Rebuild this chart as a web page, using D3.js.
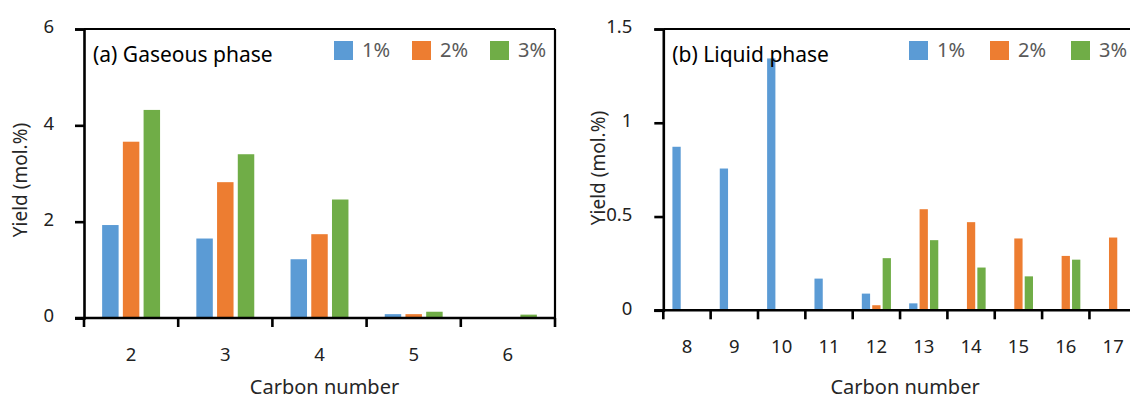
<!DOCTYPE html>
<html>
<head>
<meta charset="utf-8">
<script src="https://cdn.jsdelivr.net/npm/d3@7/dist/d3.min.js"></script>
<style>
  html, body { margin: 0; padding: 0; background: #fff; }
  svg { display: block; }
  text { font-family: "Noto Sans", "Open Sans", sans-serif; }
</style>
</head>
<body>
<svg id="chart" width="1130" height="400"></svg>
<script>
// ---------- DATA ----------
const seriesNames = ["1%", "2%", "3%"];
const seriesColors = ["#5B9BD5", "#ED7D31", "#70AD47"];

// (a) Gaseous phase
const gasCategories = ["2", "3", "4", "5", "6"];
const gas1 = [1.93, 1.65, 1.22, 0.08, 0.00];
const gas2 = [3.66, 2.82, 1.74, 0.08, 0.01];
const gas3 = [4.32, 3.40, 2.46, 0.13, 0.07];
const gasTicks = [0, 2, 4, 6];

// (b) Liquid phase
const liqCategories = ["8", "9", "10", "11", "12", "13", "14", "15", "16", "17"];
const liq1 = [0.872, 0.756, 1.343, 0.169, 0.089, 0.037, 0, 0, 0, 0];
const liq2 = [0, 0, 0, 0, 0.027, 0.539, 0.470, 0.383, 0.290, 0.388];
const liq3 = [0, 0, 0, 0, 0.278, 0.374, 0.228, 0.181, 0.270, 0];
const liqTicks = [0, 0.5, 1, 1.5];
const liqTickLabels = ["0", "0.5", "1", "1.5"];

// ---------- DRAW ----------
const svg = d3.select("#chart");
svg.append("rect").attr("width", 1130).attr("height", 400).attr("fill", "#fff");

function panel(opt) {
  const g = svg.append("g");
  const x = d3.scaleBand().domain(opt.categories).range([opt.x0, opt.x1]).paddingInner(0).paddingOuter(0);
  const y = d3.scaleLinear().domain([0, opt.ymax]).range([opt.yZero, opt.yTop]);
  const bw = x.bandwidth();
  const stepFrac = 0.22;
  const inner = d3.scaleBand().domain(d3.range(3))
    .range([-1.5 * bw * stepFrac, 1.5 * bw * stepFrac])
    .paddingInner(0.205).paddingOuter(0.1025);

  const series = [opt.s1, opt.s2, opt.s3];
  const rows = [];
  opt.categories.forEach((c, ci) => {
    series.forEach((s, si) => rows.push({c, si, v: s[ci]}));
  });

  g.selectAll("rect.bar").data(rows.filter(d => d.v > 0)).join("rect")
    .attr("class", "bar")
    .attr("x", d => x(d.c) + bw / 2 + inner(d.si))
    .attr("width", inner.bandwidth())
    .attr("y", d => y(d.v))
    .attr("height", d => opt.yZero - y(d.v))
    .attr("fill", d => seriesColors[d.si]);

  // top border
  g.append("line")
    .attr("x1", opt.x0).attr("x2", Math.min(opt.x1, 1130))
    .attr("y1", opt.yTop).attr("y2", opt.yTop)
    .attr("stroke", "#000").attr("stroke-width", 2.2);
  if (opt.rightBorder) {
    g.append("line")
      .attr("x1", opt.x1).attr("x2", opt.x1)
      .attr("y1", opt.yTop).attr("y2", opt.yZero)
      .attr("stroke", "#000").attr("stroke-width", 2.2);
  }

  // y axis
  const yAxis = d3.axisLeft(y).tickValues(opt.ticks).tickSize(9).tickPadding(opt.tickPad)
    .tickFormat((d, i) => opt.tickLabels ? opt.tickLabels[i] : String(d));
  const ya = g.append("g").attr("transform", `translate(${opt.x0},0)`).call(yAxis);
  ya.select(".domain").attr("stroke", "#000").attr("stroke-width", 2.6);
  ya.selectAll(".tick line").attr("stroke", "#000").attr("stroke-width", 2.6);
  ya.selectAll(".tick text").attr("font-size", 18.5).attr("fill", "#222")
    .attr("font-family", "'Noto Sans', sans-serif").attr("dy", "0.2em");

  // x axis labels
  const xAxis = d3.axisBottom(x).tickSize(0).tickPadding(opt.xLabPad);
  const xa = g.append("g").attr("transform", `translate(0,${opt.yZero})`).call(xAxis);
  xa.select(".domain").remove();
  xa.selectAll(".tick text").attr("font-size", 18.5).attr("fill", "#222")
    .attr("font-family", "'Noto Sans', sans-serif");

  // x axis line and boundary ticks
  g.append("line")
    .attr("x1", opt.x0 - 9).attr("x2", Math.min(opt.x1, 1130))
    .attr("y1", opt.yZero).attr("y2", opt.yZero)
    .attr("stroke", "#000").attr("stroke-width", 2.6);
  const bounds = opt.categories.map(c => x(c)).concat([opt.x1]);
  g.selectAll("line.xt").data(bounds).join("line")
    .attr("class", "xt")
    .attr("x1", d => d).attr("x2", d => d)
    .attr("y1", opt.yZero).attr("y2", opt.yZero + 9)
    .attr("stroke", "#000").attr("stroke-width", 2.6);

  // titles
  g.append("text").attr("x", (opt.x0 + opt.x1) / 2 + opt.xTitleShift).attr("y", opt.xTitleY)
    .attr("text-anchor", "middle").attr("font-size", 20).attr("fill", "#262626")
    .text("Carbon number");
  g.append("text")
    .attr("transform", `translate(${opt.yTitleX},${opt.yTitleY}) rotate(-90)`)
    .attr("text-anchor", "middle").attr("font-size", 19).attr("fill", "#262626")
    .text("Yield (mol.%)");
  g.append("text").attr("x", opt.x0 + opt.panelTitleDx).attr("y", 62)
    .attr("font-size", 21).attr("fill", "#000").text(opt.title);

  // legend
  seriesNames.forEach((n, i) => {
    const lx = opt.legendX + i * opt.legendStep;
    g.append("rect").attr("x", lx).attr("y", 41).attr("width", 19).attr("height", 19)
      .attr("fill", seriesColors[i]);
    g.append("text").attr("x", lx + 28).attr("y", 57).attr("font-size", 20)
      .attr("fill", "#595959").text(n);
  });
}

panel({
  categories: gasCategories, s1: gas1, s2: gas2, s3: gas3,
  x0: 84, x1: 555, yTop: 29, yZero: 318, ymax: 6,
  ticks: gasTicks, tickPad: 21, xLabPad: 30, rightBorder: true,
  xTitleShift: 5, xTitleY: 394, yTitleX: 27, yTitleY: 180,
  title: "(a) Gaseous phase", panelTitleDx: 9,
  legendX: 334, legendStep: 78
});

panel({
  categories: liqCategories, s1: liq1, s2: liq2, s3: liq3,
  x0: 663.3, x1: 1136.8, yTop: 29, yZero: 310.3, ymax: 1.5,
  ticks: liqTicks, tickLabels: liqTickLabels, tickPad: 22, xLabPad: 30, rightBorder: false,
  xTitleShift: 5, xTitleY: 394, yTitleX: 605, yTitleY: 168,
  title: "(b) Liquid phase", panelTitleDx: 9,
  legendX: 909, legendStep: 81
});
</script>
</body>
</html>
